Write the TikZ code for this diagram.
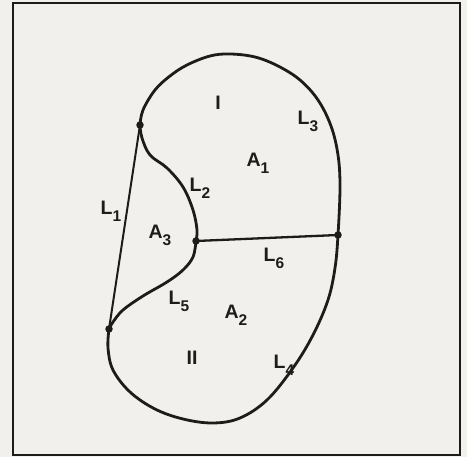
\documentclass[tikz,border=0pt]{standalone}
\usepackage{fontspec}
\setmainfont{Liberation Sans}
\definecolor{paper}{HTML}{F1F0EC}
\definecolor{ink}{HTML}{1E1C1A}
\newcommand{\sublab}[2]{#1\raisebox{-7pt}{\fontsize{15.5}{15.5}\selectfont #2}}
\begin{document}
\begin{tikzpicture}[x=1pt,y=-1pt,
  lbl/.style={font=\fontsize{19.5}{19.5}\selectfont\bfseries, text=ink, inner sep=0pt},
  curveline/.style={draw=ink, line width=2.8pt, line cap=round, line join=round},
  thinline/.style={draw=ink, line width=2pt, line cap=round},
  dotnode/.style={circle, fill=ink, inner sep=0pt, minimum size=7.5pt}]
\fill[paper] (0,0) rectangle (467,457);
\useasboundingbox (0,0) rectangle (467,457);
\draw[ink, line width=2.4pt] (13,3) rectangle (460,455);
% junction points
\coordinate (p1) at (140,125);
\coordinate (p2) at (109,329);
\coordinate (p3) at (196,241);
\coordinate (p4) at (338,235);
% outer boundary L3 and L4
\draw[curveline] plot[smooth, tension=0.6] coordinates {
  (p1) (143,110) (155,90) (170,76) (187,65) (210,56) (230,54) (255,57) (278,66) (300,80)
  (318,100) (331,126) (338,155) (340,187) (p4) (335,268) (328,300) (313,335) (293,368)
  (267,400) (240,418) (213,423) (183,419) (155,409) (130,392) (113,370) (108,348) (p2)};
% L1
\draw[thinline] (p1) -- (p2);
% L2
\draw[curveline] plot[smooth, tension=0.6] coordinates {
  (p1) (142,138) (150,155) (167,168) (183,187) (193,210) (197,230) (p3)};
% L5
\draw[curveline] plot[smooth, tension=0.6] coordinates {
  (p3) (193,257) (183,270) (167,282) (143,296) (123,310) (113,322) (p2)};
% L6
\draw[thinline, line width=2.3pt] (p3) -- (p4);
% dots
\node[dotnode] (d1) at (p1) {};
\node[dotnode] (d2) at (p2) {};
\node[dotnode] (d3) at (p3) {};
\node[dotnode] (d4) at (p4) {};
% labels
\node[lbl] (rI) at (218,103) {I};
\node[lbl] (rII) at (192,358) {II};
\node[lbl] (l3) at (308,121) {\sublab{L}{3}};
\node[lbl] (a1) at (258,163) {\sublab{A}{1}};
\node[lbl] (l2) at (200,188) {\sublab{L}{2}};
\node[lbl] (l1) at (111,211) {\sublab{L}{1}};
\node[lbl] (a3) at (160,235) {\sublab{A}{3}};
\node[lbl] (l6) at (274,258) {\sublab{L}{6}};
\node[lbl] (l5) at (179,301) {\sublab{L}{5}};
\node[lbl] (a2) at (236,315) {\sublab{A}{2}};
\node[lbl] (l4) at (284,365) {\sublab{L}{4}};
\end{tikzpicture}
\end{document}
